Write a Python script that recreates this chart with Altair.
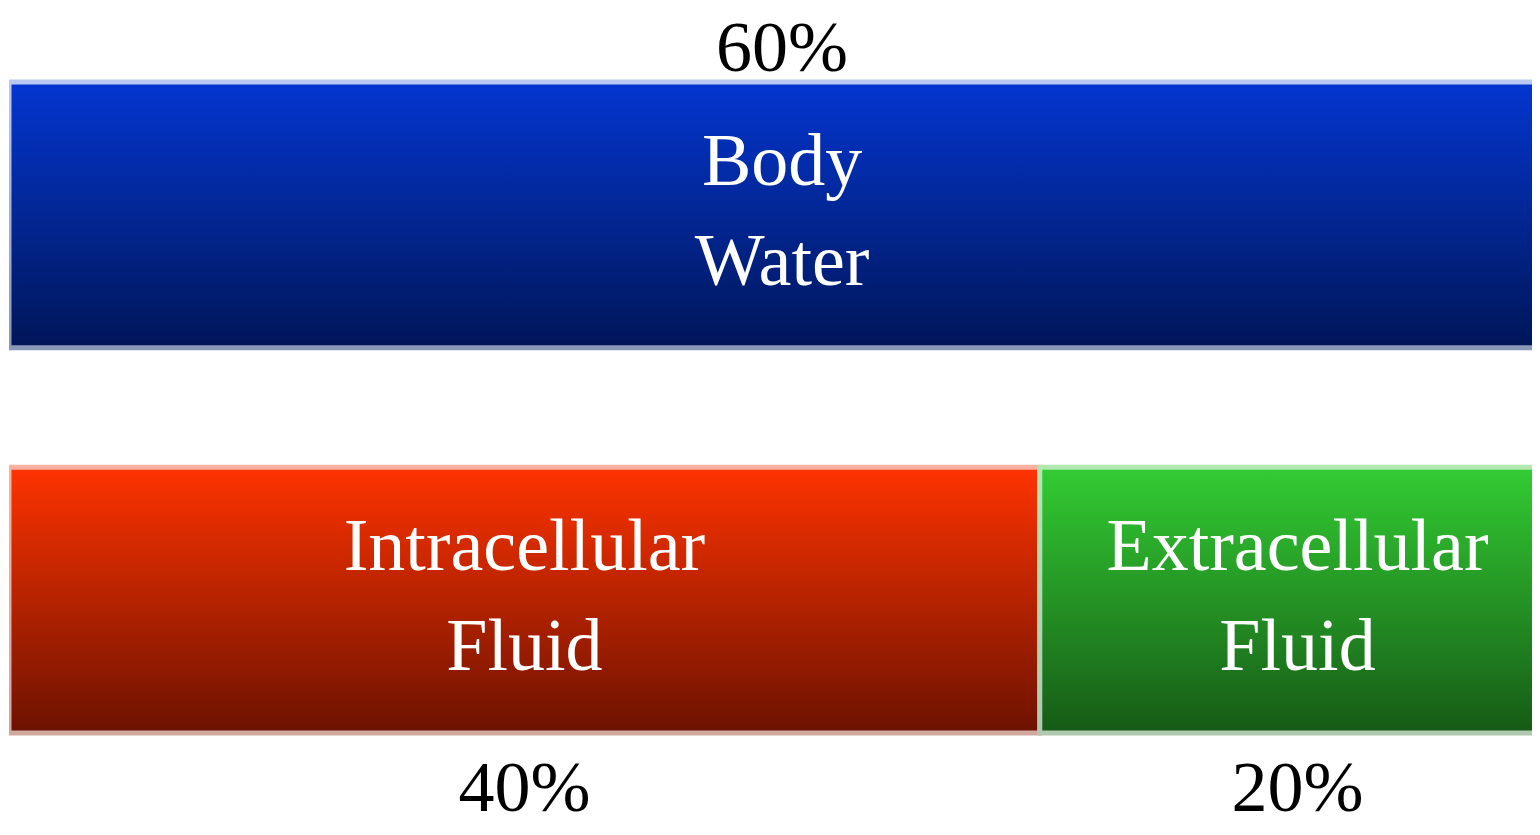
import altair as alt
import pandas as pd

# ---- data ----
keys = ["body", "intra", "extra"]
labels = ["Body\nWater", "Intracellular\nFluid", "Extracellular\nFluid"]
rows = ["total", "split", "split"]
values = [60, 40, 20]

starts = []
acc = {}
for r, v in zip(rows, values):
    s = acc.get(r, 0)
    starts.append(s)
    acc[r] = s + v

df = pd.DataFrame({"key": keys, "label": labels, "row": rows,
                   "value": values, "start": starts})
df["end"] = df["start"] + df["value"]
df["mid"] = (df["start"] + df["end"]) / 2
df["pct"] = df["value"].astype(str) + "%"

# ---- styles ----
fills = {
    "body": ("#0436d0", "#001658"),
    "intra": ("#ff3300", "#6c1200"),
    "extra": ("#33cc33", "#165a16"),
}
strokes = {
    "body": ("#b8c8f0", "#8a98b8"),
    "intra": ("#f8b0a0", "#d0a8a0"),
    "extra": ("#b0e8b0", "#b0c8b0"),
}


def grad(c0, c1):
    return alt.Gradient(
        gradient="linear", x1=0, y1=0, x2=0, y2=1,
        stops=[alt.GradientStop(color=c0, offset=0),
               alt.GradientStop(color=c1, offset=1)],
    )


xs = alt.Scale(domain=[0, 59.1], nice=False, zero=False)
ys = alt.Scale(paddingInner=0.31, paddingOuter=0.218, align=0.44)
ysort = ["total", "split"]

base = alt.Chart(df)

layers = []
for k in keys:
    f0, f1 = fills[k]
    s0, s1 = strokes[k]
    layers.append(
        base.transform_filter(alt.datum.key == k)
        .mark_bar(fill=grad(f0, f1), stroke=grad(s0, s1), strokeWidth=5,
                  clip=True, cornerRadius=0)
        .encode(
            x=alt.X("start:Q", scale=xs, axis=None),
            x2="end:Q",
            y=alt.Y("row:N", sort=ysort, scale=ys, axis=None),
        )
    )

font = "Liberation Serif"

inner = base.mark_text(font=font, fontSize=74, color="white", lineBreak="\n",
                       lineHeight=100, baseline="middle", align="center",
                       dy=-52).encode(
    x=alt.X("mid:Q", scale=xs, axis=None),
    y=alt.Y("row:N", sort=ysort, scale=ys, axis=None),
    text="label:N",
)

top_pct = base.transform_filter(alt.datum.row == "total").mark_text(
    font=font, fontSize=72, color="black", baseline="middle", align="center", dy=-166
).encode(
    x=alt.X("mid:Q", scale=xs, axis=None),
    y=alt.Y("row:N", sort=ysort, scale=ys, axis=None),
    text="pct:N",
)

bot_pct = base.transform_filter(alt.datum.row == "split").mark_text(
    font=font, fontSize=72, color="black", baseline="middle", align="center", dy=189
).encode(
    x=alt.X("mid:Q", scale=xs, axis=None),
    y=alt.Y("row:N", sort=ysort, scale=ys, axis=None),
    text="pct:N",
)

chart = alt.layer(*layers, inner, top_pct, bot_pct).properties(
    width=1523, height=819,
    padding={"left": 1, "top": 0, "right": 0, "bottom": 0},
    autosize=alt.AutoSizeParams(type="none"),
    background="white",
).configure_view(stroke=None)

chart.save("out.html", embed_options={"renderer": "svg", "actions": False})
